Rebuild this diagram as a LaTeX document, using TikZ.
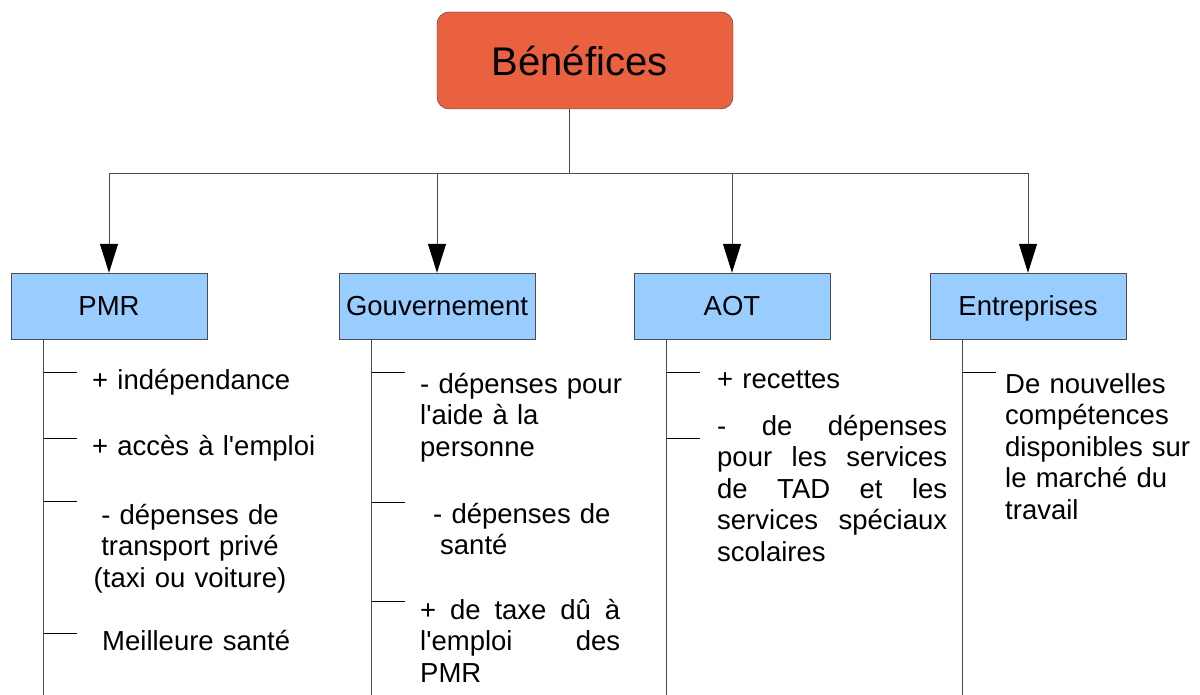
\documentclass[tikz,border=0pt]{standalone}
\usepackage{fontspec}
\setmainfont{Liberation Sans}[Ligatures=TeXOff]
\usetikzlibrary{arrows.meta}
\usetikzlibrary{positioning}
\definecolor{titlered}{RGB}{234,97,64}
\definecolor{boxblue}{RGB}{153,204,255}
\hyphenpenalty=10000
\exhyphenpenalty=10000
\tolerance=9999

\begin{document}
\begin{tikzpicture}[x=1pt,y=-1pt,
  head/.style={draw=black!80,fill=titlered,rounded corners=12pt,minimum width=296pt,minimum height=97pt,inner sep=0pt,font=\fontsize{40}{46}\selectfont},
  group/.style={draw=black!70,fill=boxblue,minimum width=196pt,minimum height=66pt,inner sep=0pt,text height=20pt,text depth=0pt,font=\fontsize{27.5}{31.5}\selectfont},
  item/.style={inner sep=0pt,anchor=base west,text width=230pt,align=left,font=\fontsize{27.5}{31.5}\selectfont},
  link/.style={draw=black!70,line width=1pt,-{Triangle[length=29pt,width=18pt,color=black]}},
  rail/.style={draw=black!70,line width=1pt},
  tick/.style={draw=black,line width=0.8pt}]
\useasboundingbox (0,0) rectangle (1200,695);

\node[head] (ben) at (585,60.5) {\hspace*{-11pt}Bénéfices};
\node[group] (pmr) at (109,306) {PMR};
\node[group] (gouv) at (437,306) {Gouvernement};
\node[group] (aot) at (732,306) {AOT};
\node[group] (ent) at (1028,306) {Entreprises};

\coordinate (hub) at (569,174);
\draw[rail] (hub |- ben.south) -- (hub);
\foreach \b in {pmr,gouv,aot,ent}
  \draw[link] (hub) -| (\b.north);

\foreach \b/\ys in {pmr/{372,438,501,633},gouv/{372,502,601},aot/{372,438},ent/{372}}{
  \path (\b.south west) ++(33,0) coordinate (\b-t);
  \draw[rail] (\b-t) -- ++(0,356);
  \foreach \y in \ys
    \draw[tick] (\b-t) ++(0,\y-339) -- ++(33,0);
}

% PMR
\node[item] (p1) at (92,389) {+ indépendance};
\node[item] (p2) at (92,455) {+ accès à l'emploi};
\node[item,anchor=base,text width=200pt,align=center] (p3) at (190,524) {- dépenses de\\transport privé\\(taxi ou voiture)};
\node[item] (p4) at (102,650) {Meilleure santé};

% Gouvernement
\node[item] (g1) at (420,393) {- dépenses pour\\l'aide à la\\personne};
\node[item] (g2) at (433,523) {- dépenses de\\\hspace*{7pt}santé};
\node[item,text width=200pt,align=justify] (g3) at (420,619) {+ de taxe dû à\linebreak l'emploi des\linebreak PMR};

% AOT
\node[item] (a1) at (717,388) {+ recettes};
\node[item,text width=230pt,align=justify] (a2) at (717,435) {- de dépenses\linebreak pour les services\linebreak de TAD et les\linebreak services spéciaux\linebreak scolaires};

% Entreprises
\node[item] (e1) at (1005,393) {De nouvelles\\compétences\\disponibles sur\\le marché du\\travail};

\end{tikzpicture}
\end{document}
